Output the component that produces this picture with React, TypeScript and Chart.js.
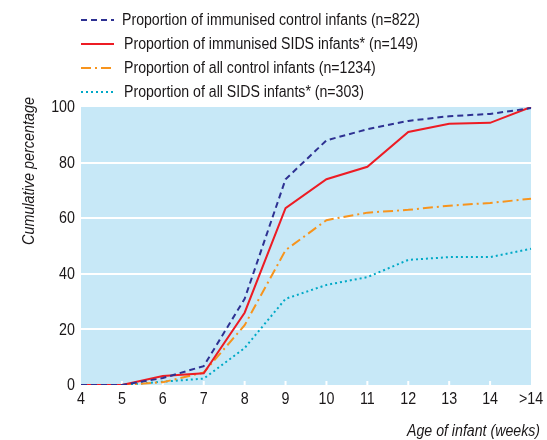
import React, { useEffect, useRef } from "react";
import { Chart, registerables } from "chart.js";

Chart.register(...registerables);

const weeks = ["4", "5", "6", "7", "8", "9", "10", "11", "12", "13", "14", ">14"];
const immunisedControl = [0, 0, 2.5, 6.8, 31, 74, 88, 92, 95, 96.7, 97.5, 99.6];
const immunisedSids = [0, 0, 3.2, 4.2, 26, 63.6, 74, 78.5, 91, 94, 94.3, 100];
const allControl = [0, 0, 1, 4.5, 21.5, 48.5, 59.3, 62, 63, 64.5, 65.5, 67];
const allSids = [0, 0, 1.2, 2.3, 13.3, 31, 36, 38.8, 45, 46, 46, 49];
const yTicks = [0, 20, 40, 60, 80, 100];
const seriesLabels = [
  "Proportion of immunised control infants (n=822)",
  "Proportion of immunised SIDS infants* (n=149)",
  "Proportion of all control infants (n=1234)",
  "Proportion of all SIDS infants* (n=303)",
];

const FONT = "'Liberation Sans', Arial, sans-serif";
const TEXT = "#1a1718";
const colors = ["#2e3192", "#ed1c24", "#f7941d", "#00a9c6"];
const dashes = [[6, 4], [], [10, 4, 2, 4], [2, 3]];

function drawCondensed(ctx: any, text: string, x: number, y: number, sx: number) {
  ctx.save();
  ctx.translate(x, y);
  ctx.scale(sx, 1);
  ctx.fillText(text, 0, 0);
  ctx.restore();
}

const customPlugin = {
  id: "custom",
  beforeDraw(chart: any) {
    const { ctx, chartArea } = chart;
    ctx.save();
    ctx.fillStyle = "#c7e8f7";
    ctx.fillRect(chartArea.left, chartArea.top, chartArea.right - chartArea.left, chartArea.bottom - chartArea.top);
    ctx.restore();
  },
  beforeDatasetsDraw(chart: any) {
    const { ctx, chartArea } = chart;
    const xs = chart.scales.x;
    ctx.save();
    ctx.strokeStyle = "#ffffff";
    ctx.lineWidth = 2;
    for (let i = 1; i < weeks.length - 1; i++) {
      const x = xs.getPixelForTick(i);
      ctx.beginPath();
      ctx.moveTo(x, chartArea.bottom);
      ctx.lineTo(x, chartArea.bottom - 4);
      ctx.stroke();
    }
    ctx.restore();
  },
  afterDraw(chart: any) {
    const { ctx } = chart;
    const xs = chart.scales.x;
    const ys = chart.scales.y;
    ctx.save();
    ctx.fillStyle = TEXT;
    // tick labels (positions from the library's scales)
    ctx.font = `17px ${FONT}`;
    ctx.textBaseline = "middle";
    const tsx = 0.84;
    ys.ticks.forEach((t: any, i: number) => {
      const label = String(t.value);
      const w = ctx.measureText(label).width * tsx;
      ctx.textAlign = "left";
      drawCondensed(ctx, label, 75 - w, ys.getPixelForTick(i) + 0.5, tsx);
    });
    weeks.forEach((lab, i) => {
      const w = ctx.measureText(lab).width * tsx;
      ctx.textAlign = "left";
      drawCondensed(ctx, lab, xs.getPixelForTick(i) - w / 2, 399, tsx);
    });
    // legend
    ctx.font = `16px ${FONT}`;
    ctx.textBaseline = "middle";
    ctx.textAlign = "left";
    const sx = 298 / ctx.measureText(seriesLabels[0]).width;
    const rowsY = [20, 44, 68, 92];
    seriesLabels.forEach((lab, i) => {
      const y = rowsY[i];
      ctx.strokeStyle = colors[i];
      ctx.lineWidth = 2;
      ctx.setLineDash(dashes[i]);
      ctx.beginPath();
      ctx.moveTo(81, y);
      ctx.lineTo(114, y);
      ctx.stroke();
      ctx.setLineDash([]);
      drawCondensed(ctx, lab, i === 0 ? 122 : 124, y + 1, sx);
    });
    // axis titles
    ctx.font = `italic 16px ${FONT}`;
    ctx.textAlign = "left";
    ctx.textBaseline = "alphabetic";
    const xt = "Age of infant (weeks)";
    const sxx = 133 / ctx.measureText(xt).width;
    drawCondensed(ctx, xt, 407, 436, sxx);
    const yt = "Cumulative percentage";
    const syy = 148 / ctx.measureText(yt).width;
    ctx.translate(30, 245);
    ctx.rotate(-Math.PI / 2);
    ctx.textBaseline = "middle";
    drawCondensed(ctx, yt, 0, 0, syy);
    ctx.restore();
  },
};

export default function App() {
  const ref = useRef<HTMLCanvasElement>(null);
  useEffect(() => {
    if (!ref.current) return;
    const series = [immunisedControl, immunisedSids, allControl, allSids];
    const chart = new Chart(ref.current, {
      type: "line",
      data: {
        labels: weeks,
        datasets: series.map((d, i) => ({
          label: seriesLabels[i],
          data: d,
          borderColor: colors[i],
          borderWidth: 2,
          borderDash: dashes[i],
          pointRadius: 0,
          tension: 0,
          fill: false,
        })),
      },
      options: {
        animation: false,
        responsive: true,
        maintainAspectRatio: false,
        layout: { padding: { top: 107, right: 16, left: 0, bottom: 0 } },
        plugins: { legend: { display: false }, tooltip: { enabled: false } },
        scales: {
          x: {
            offset: false,
            grid: { display: false, drawTicks: false },
            border: { display: false },
            ticks: { display: false, autoSkip: false, maxRotation: 0 },
            afterFit(s: any) { s.height = 55; },
          },
          y: {
            min: 0,
            max: 100,
            afterBuildTicks(s: any) { s.ticks = yTicks.map((v) => ({ value: v })); },
            grid: {
              color: (c: any) => (c.tick && c.tick.value > 0 && c.tick.value < 100 ? "#ffffff" : "rgba(0,0,0,0)"),
              lineWidth: 2,
              drawTicks: false,
            },
            border: { display: false },
            ticks: { display: false },
            afterFit(s: any) { s.width = 81; },
          },
        },
      },
      plugins: [customPlugin],
    });
    return () => chart.destroy();
  }, []);
  return (
    <div style={{ position: "fixed", left: 0, top: 0, width: 547, height: 440, background: "#fff" }}>
      <canvas ref={ref} />
    </div>
  );
}
